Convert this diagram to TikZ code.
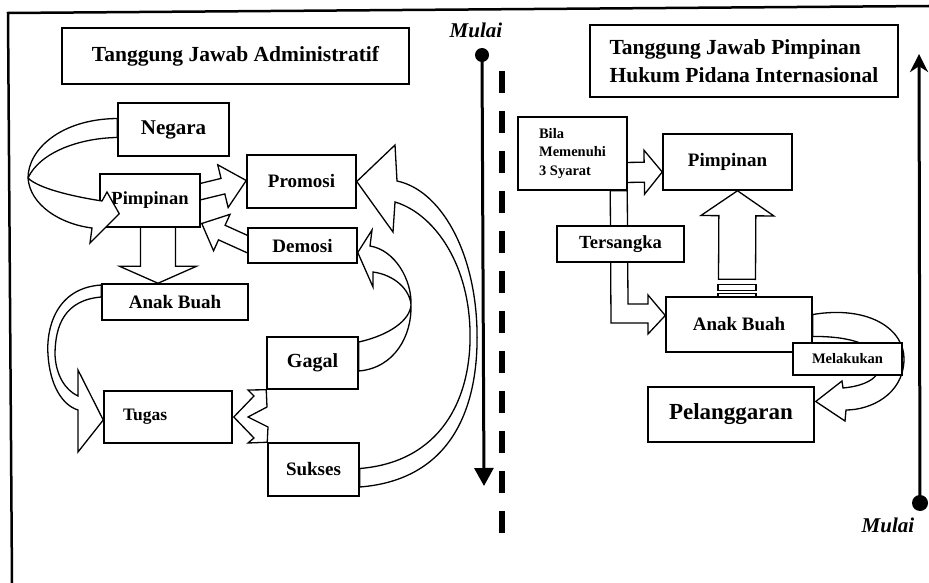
\documentclass[tikz,border=0pt]{standalone}
\usepackage{fontspec}
\setmainfont{Liberation Serif}
\usetikzlibrary{calc,arrows.meta,backgrounds}

\tikzset{
  box/.style={draw, line width=1.5pt, fill=white, inner sep=0pt,
    font=\bfseries\fontsize{19}{22}\selectfont},
  ribbon/.style={draw, line width=1.3pt, fill=white},
  timeline/.style={line width=3pt},
  mulai/.style={font=\bfseries\itshape\fontsize{21}{24}\selectfont},
}

% straight block arrow: tail, tip, half shaft, half head, head length
\newcommand\blockarrow[5]{%
  \coordinate (ba-s) at #1;
  \coordinate (ba-t) at #2;
  \coordinate (ba-b) at ($(ba-t)!#5!(ba-s)$);
  \draw[ribbon] ($(ba-s)!#3!90:(ba-t)$) -- ($(ba-b)!#3!90:(ba-t)$)
    -- ($(ba-b)!#4!90:(ba-t)$) -- (ba-t) -- ($(ba-b)!#4!-90:(ba-t)$)
    -- ($(ba-b)!#3!-90:(ba-t)$) -- ($(ba-s)!#3!-90:(ba-t)$) -- cycle;
}

\begin{document}
\begin{tikzpicture}[x=1pt,y=-1pt]
  \useasboundingbox (0,0) rectangle (929,583);
  \draw[line width=2.5pt] (12,583) -- (8,13) -- (929,6);

  % left: administratif
  \node[box, minimum width=347pt, minimum height=56pt,
    font=\bfseries\fontsize{21.5}{24}\selectfont] (titleA) at (235.5,56) {Tanggung Jawab Administratif};
  \node[box, minimum width=111pt, minimum height=53pt,
    font=\bfseries\fontsize{21}{24}\selectfont] (negara) at (173.5,129.5) {Negara};
  \node[box, minimum width=100pt, minimum height=53pt,
    font=\bfseries\fontsize{18.5}{22}\selectfont] (pimpA) at (150,200.5) {Pimpinan};
  \node[box, minimum width=109pt, minimum height=53pt] (promosi) at (301.5,181.5) {Promosi};
  \node[box, minimum width=109pt, minimum height=35pt] (demosi) at (302.5,245.5) {Demosi};
  \node[box, minimum width=146pt, minimum height=36pt] (anakA) at (175,302) {Anak Buah};
  \node[box, minimum width=128pt, minimum height=52pt, text width=90pt, align=left,
    font=\bfseries\fontsize{17.5}{20}\selectfont] (tugas) at (168,417) {Tugas};
  \node[box, minimum width=91pt, minimum height=52pt,
    font=\bfseries\fontsize{20}{22}\selectfont] (gagal) at (312.5,363) {Gagal};
  \node[box, minimum width=91pt, minimum height=53pt] (sukses) at (313.5,469.5) {Sukses};

  % right: hukum pidana internasional
  \node[box, minimum width=308pt, minimum height=72pt, align=left,
    font=\bfseries\fontsize{21.5}{28}\selectfont] (titleB) at (744,61)
    {Tanggung Jawab Pimpinan\\Hukum Pidana Internasional};
  \node[box, minimum width=109pt, minimum height=73pt, align=left,
    font=\bfseries\fontsize{14.5}{18.5}\selectfont] (bila) at (572.5,153.5) {Bila\\Memenuhi\\3 Syarat};
  \node[box, minimum width=129pt, minimum height=56pt] (pimpB) at (727.5,162) {Pimpinan};
  \node[box, minimum width=127pt, minimum height=36pt,
    font=\bfseries\fontsize{18.5}{22}\selectfont] (tersangka) at (620.5,244) {Tersangka};
  \node[box, minimum width=146pt, minimum height=55pt] (anakB) at (739,324.5) {Anak Buah};
  \node[box, minimum width=109pt, minimum height=32pt,
    font=\bfseries\fontsize{14.5}{17}\selectfont] (melakukan) at (847.5,359) {Melakukan};
  \node[box, minimum width=166pt, minimum height=55pt,
    font=\bfseries\fontsize{23}{26}\selectfont] (pelanggaran) at (731,414.5) {Pelanggaran};

  % time lines
  \node[mulai] (mulaiA) at (476,30) {Mulai};
  \node[mulai] (mulaiB) at (888,525) {Mulai};
  \coordinate (startA) at (482,55);
  \coordinate (endA) at (484,486);
  \coordinate (startB) at (920,503);
  \coordinate (endB) at (919,54);
  \fill (startA) circle (7pt);
  \fill (startB) circle (8pt);
  \draw[timeline, -{Triangle[width=19pt,length=18pt]}] (startA) -- (endA);
  \draw[timeline, -{Stealth[width=18pt,length=18pt]}] (startB) -- (endB);
  \draw[line width=6pt, dash pattern=on 22pt off 18pt] (502,533) -- (502,68);

  \begin{pgfonlayer}{background}
    \blockarrow{($(pimpA.east)+(-12,-6)$)}{($(promosi.west)+(0,-1)$)}{8pt}{22pt}{24pt}
    \blockarrow{($(demosi.west)+(12,4)$)}{($(pimpA.east)+(1,23)$)}{8pt}{20pt}{22pt}
    \blockarrow{($(pimpA.south)+(8,-5)$)}{($(anakA.north)+(-17,0)$)}{17.5pt}{38.5pt}{17pt}
    \blockarrow{($(bila.east)+(-5,19)$)}{($(pimpB.west)+(0,10)$)}{10pt}{22pt}{18pt}
    \blockarrow{($(anakB.north)+(-2,-17)$)}{($(pimpB.south)+(10,0)$)}{18.5pt}{36.5pt}{25pt}
    \draw[ribbon] ($(anakB.north)+(-21,-12)$) rectangle ($(anakB.north)+(17,-6)$);
    \draw[ribbon] ($(anakB.north)+(-21,-3)$) rectangle ($(anakB.north)+(17,0)$);

    % anak buah -> tugas
    \draw[ribbon] ($(anakA.west)+(0,-17)$) .. controls (55,288) and (46,330) .. (48,355)
      .. controls (50,385) and (62,405) .. (78,410) -- (78,452) -- ($(tugas.west)+(0,3)$)
      -- (78,370) -- (78,396) .. controls (65,390) and (56,375) .. (55,355)
      .. controls (55,325) and (65,300) .. ($(anakA.west)+(0,-5)$) -- cycle;
    % gagal/sukses -> tugas
    \draw[ribbon] (gagal.south west) -- (248,390) -- (254,396) -- ($(tugas.east)+(1,0)$)
      -- (254,438) -- (248,443) -- (sukses.north west) -- (268,427) -- (248,417)
      -- (267,407) -- cycle;
    % gagal -> demosi
    \draw[ribbon] ($(gagal.east)+(0,-21)$) .. controls (390,335) and (410,320) .. (411,305)
      .. controls (412,280) and (395,250) .. (370,246) -- (372,230)
      -- ($(demosi.east)+(0,7)$) -- (373,287) -- (373,272)
      .. controls (395,275) and (410,290) .. (411,305)
      .. controls (412,335) and (395,368) .. ($(gagal.east)+(0,8)$) -- cycle;
    % sukses -> promosi
    \draw[ribbon] ($(sukses.east)+(0,17.5)$) .. controls (450,480) and (479,410) .. (477,330)
      .. controls (475,250) and (440,190) .. (397,181) -- (395,145) -- (promosi.east)
      -- (393,232) -- (395,202) .. controls (432,213) and (468,260) .. (470,330)
      .. controls (472,400) and (440,462) .. ($(sukses.east)+(0,-1)$) -- cycle;

    % bila -> anak buah, through tersangka
    \draw[ribbon] ($(bila.south west)+(93,0)$) -- (611,323) -- (648,323) -- (648,334)
      -- ($(anakB.west)+(0,-9)$) -- (648,295) -- (648,304) -- (628,304)
      -- ($(bila.south west)+(110,0)$) -- cycle;
    % anak buah -> pelanggaran
    \draw[ribbon] ($(anakB.east)+(0,-10)$) .. controls (870,305) and (905,330) .. (904,360)
      .. controls (903,395) and (870,410) .. (846,410) -- (845,421)
      -- ($(pelanggaran.east)+(1,-13)$) -- (842,381) -- (843,388)
      .. controls (865,386) and (880,378) .. (880,365)
      .. controls (880,345) and (850,336) .. ($(anakB.east)+(0,12)$) -- cycle;
  \end{pgfonlayer}

  % negara -> pimpinan
  \draw[ribbon] ($(negara.west)+(0,-11)$) .. controls (60,119) and (28,150) .. (28,178)
    .. controls (30,205) and (60,224) .. (92,228) -- (90,243)
    -- ($(pimpA.south west)+(20,-14)$) -- (107,192) -- (102,201)
    .. controls (70,196) and (38,188) .. (28,178)
    .. controls (40,152) and (80,138) .. ($(negara.west)+(0,8)$) -- cycle;
\end{tikzpicture}
\end{document}
